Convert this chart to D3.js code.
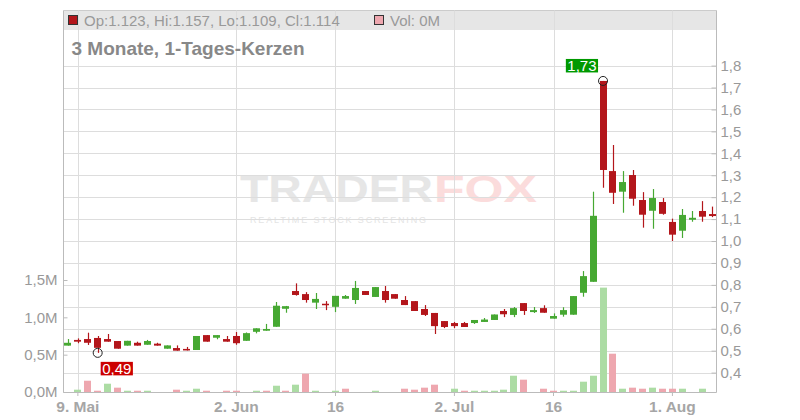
<!DOCTYPE html>
<html><head><meta charset="utf-8">
<script src="https://cdn.jsdelivr.net/npm/d3@7"></script>
<style>body{margin:0;background:#fff}svg{display:block;font-family:"Liberation Sans",Arial,sans-serif}</style>
</head><body><svg id="c" width="800" height="420"></svg>
<script>
// ---- data ----
const dates = [
"2025-05-08","2025-05-09","2025-05-12","2025-05-13","2025-05-14","2025-05-15","2025-05-16","2025-05-19","2025-05-20","2025-05-21","2025-05-22","2025-05-23","2025-05-26","2025-05-27","2025-05-28","2025-05-29","2025-05-30",
"2025-06-02","2025-06-03","2025-06-04","2025-06-05","2025-06-06","2025-06-09","2025-06-10","2025-06-11","2025-06-12","2025-06-13","2025-06-16","2025-06-17","2025-06-18","2025-06-19","2025-06-20","2025-06-23","2025-06-24","2025-06-25","2025-06-26","2025-06-27","2025-06-30",
"2025-07-01","2025-07-02","2025-07-03","2025-07-04","2025-07-07","2025-07-08","2025-07-09","2025-07-10","2025-07-11","2025-07-14","2025-07-15","2025-07-16","2025-07-17","2025-07-18","2025-07-21","2025-07-22","2025-07-23","2025-07-24","2025-07-25","2025-07-28","2025-07-29","2025-07-30","2025-07-31",
"2025-08-01","2025-08-04","2025-08-05","2025-08-06","2025-08-07"];
const open  = [0.523,0.549,0.553,0.558,0.553,0.544,0.523,0.536,0.527,0.532,0.509,0.512,0.508,0.503,0.571,0.559,0.553,0.567,0.545,0.586,0.591,0.609,0.691,0.772,0.758,0.719,0.714,0.700,0.737,0.731,0.772,0.745,0.772,0.758,0.731,0.726,0.690,0.672,0.635,0.626,0.626,0.626,0.631,0.640,0.681,0.663,0.717,0.676,0.694,0.646,0.664,0.664,0.764,0.814,1.730,1.319,1.225,1.301,1.187,1.138,1.178,1.087,1.047,1.097,1.137,1.123];
const high  = [0.553,0.556,0.582,0.567,0.576,0.544,0.545,0.541,0.549,0.536,0.524,0.524,0.517,0.567,0.571,0.571,0.567,0.585,0.583,0.602,0.622,0.722,0.704,0.807,0.767,0.763,0.726,0.750,0.754,0.818,0.772,0.790,0.795,0.758,0.749,0.726,0.708,0.672,0.635,0.631,0.631,0.640,0.649,0.665,0.690,0.699,0.717,0.699,0.707,0.670,0.698,0.749,0.863,1.225,1.730,1.438,1.319,1.324,1.223,1.237,1.196,1.102,1.146,1.137,1.182,1.157];
const low   = [0.523,0.534,0.526,0.490,0.541,0.509,0.523,0.523,0.527,0.523,0.509,0.500,0.501,0.503,0.541,0.552,0.541,0.527,0.545,0.579,0.591,0.609,0.673,0.751,0.719,0.690,0.685,0.676,0.737,0.713,0.754,0.745,0.719,0.737,0.708,0.681,0.658,0.576,0.603,0.603,0.608,0.622,0.631,0.640,0.653,0.653,0.663,0.672,0.673,0.646,0.655,0.664,0.746,0.814,1.243,1.169,1.129,1.161,1.061,1.056,1.120,1.000,1.014,1.088,1.088,1.109];
const close = [0.536,0.541,0.536,0.513,0.541,0.509,0.545,0.523,0.544,0.523,0.524,0.500,0.501,0.567,0.541,0.571,0.541,0.534,0.580,0.602,0.599,0.705,0.703,0.754,0.731,0.736,0.710,0.750,0.749,0.786,0.754,0.790,0.731,0.737,0.708,0.681,0.663,0.612,0.608,0.612,0.608,0.640,0.642,0.665,0.666,0.694,0.681,0.685,0.673,0.658,0.685,0.749,0.840,1.115,1.324,1.220,1.269,1.193,1.120,1.196,1.124,1.029,1.119,1.106,1.111,1.114];
const volume = [0,0.031,0.151,0.017,0.111,0.058,0.017,0.017,0.017,0,0,0.031,0.017,0.044,0.017,0,0.017,0.017,0,0.017,0.017,0.084,0.017,0.098,0.245,0.017,0,0.017,0.044,0,0,0.017,0,0,0.044,0.031,0.058,0.098,0,0.044,0.017,0.017,0.017,0.017,0.031,0.218,0.165,0,0.044,0.017,0.017,0.017,0.138,0.218,1.398,0.513,0.044,0.058,0.044,0.058,0.044,0.044,0.044,0,0.044,0]; // in millions
const priceTicks = [0.4,0.5,0.6,0.7,0.8,0.9,1.0,1.1,1.2,1.3,1.4,1.5,1.6,1.7,1.8];
const volTicks = [0,0.5,1.0,1.5];
const xTickDates = ["2025-05-09","2025-06-02","2025-06-16","2025-07-02","2025-07-16","2025-08-01"];
const xTickLabels = ["9. Mai","2. Jun","16","2. Jul","16","1. Aug"];
const titleText = "3 Monate, 1-Tages-Kerzen";

// ---- styles ----
const RED = "#b3161b", GREEN = "#46a832", VGREEN = "#acdca4", VRED = "#eea7af";
const GRID = "#dddddd", AXIS = "#bbbbbb", TXT = "#999999";

const svg = d3.select("#c");
const L = 63.5, R = 716.5, T = 10.5, B = 392;

const x = d3.scaleBand().domain(dates).range([63, 717]).paddingInner(0.3).paddingOuter(0.15);
const y = d3.scaleLinear().domain([0.4, 1.8]).range([372.6, 65.6]);
const yv = d3.scaleLinear().domain([0, 1.5]).range([B, 280]);
const cx = i => x(dates[i]) + x.bandwidth() / 2;
const bw = 7;
const comma = s => s.replace(".", ",");

// watermark
const wm = svg.append("g").attr("class", "watermark");
wm.append("text").attr("x", 240).attr("y", 202).attr("font-size", 36).attr("font-weight", "bold")
  .attr("textLength", 193).attr("lengthAdjust", "spacingAndGlyphs").attr("fill", "#e6e6e6").text("TRADER");
wm.append("text").attr("x", 434).attr("y", 202).attr("font-size", 36).attr("font-weight", "bold")
  .attr("textLength", 103).attr("lengthAdjust", "spacingAndGlyphs").attr("fill", "#fbdcdc").text("FOX");
wm.append("text").attr("x", 250).attr("y", 223).attr("font-size", 9)
  .attr("textLength", 176).attr("lengthAdjust", "spacing").attr("fill", "#e4e4e4").text("REALTIME STOCK SCREENING");

// header band
svg.append("rect").attr("x", L).attr("y", T).attr("width", R - L).attr("height", 19.5).attr("fill", "#e6e6e6");
svg.append("line").attr("x1", L).attr("x2", R).attr("y1", T).attr("y2", T).attr("stroke", "#cccccc");

// grid
svg.append("g").selectAll("line").data(priceTicks).join("line")
  .attr("x1", L).attr("x2", R).attr("y1", d => Math.round(y(d)) + 0.5).attr("y2", d => Math.round(y(d)) + 0.5)
  .attr("stroke", GRID);
svg.append("g").selectAll("line").data(xTickDates).join("line")
  .attr("x1", d => Math.round(x(d) + x.bandwidth() / 2) + 0.5).attr("x2", d => Math.round(x(d) + x.bandwidth() / 2) + 0.5)
  .attr("y1", T).attr("y2", B).attr("stroke", GRID);

// volume bars
const idx = d3.range(dates.length);
const up = i => i > 0 && close[i] > close[i - 1];
svg.append("g").selectAll("rect").data(idx.filter(i => volume[i] > 0)).join("rect")
  .attr("x", i => Math.round(cx(i) - bw / 2)).attr("width", bw)
  .attr("y", i => yv(volume[i])).attr("height", i => B - yv(volume[i]))
  .attr("fill", i => up(i) ? VGREEN : VRED);

// candles
const cg = svg.append("g").selectAll("g").data(idx).join("g");
cg.append("line")
  .attr("x1", i => Math.round(cx(i)) + 0.5).attr("x2", i => Math.round(cx(i)) + 0.5)
  .attr("y1", i => y(high[i])).attr("y2", i => y(low[i]))
  .attr("stroke", i => close[i] >= open[i] ? GREEN : RED).attr("stroke-width", 1.2);
cg.append("rect")
  .attr("x", i => Math.round(cx(i) - bw / 2)).attr("width", bw)
  .attr("y", i => y(Math.max(open[i], close[i])))
  .attr("height", i => Math.max(1.5, Math.abs(y(open[i]) - y(close[i]))))
  .attr("fill", i => close[i] >= open[i] ? GREEN : RED);

// axes
const fmtP = d => comma(d3.format(".1f")(d));
const ra = svg.append("g").attr("transform", `translate(${R},0)`)
  .call(d3.axisRight(y).tickValues(priceTicks).tickSize(-5).tickPadding(4).tickSizeOuter(0).tickFormat(fmtP));
const la = svg.append("g").attr("transform", `translate(${L},0)`)
  .call(d3.axisLeft(yv).tickValues(volTicks).tickSize(-4).tickPadding(6).tickSizeOuter(0).tickFormat(d => comma(d3.format(".1f")(d)) + "M"));
const ba = svg.append("g").attr("transform", `translate(0,${B})`)
  .call(d3.axisBottom(x).tickValues(xTickDates).tickSize(4).tickPadding(5).tickSizeOuter(0)
    .tickFormat(d => xTickLabels[xTickDates.indexOf(d)]));
[ra, la, ba].forEach(a => {
  a.select(".domain").remove();
  a.selectAll(".tick line").attr("stroke", AXIS);
  a.selectAll("text").attr("fill", TXT).attr("font-size", 15).attr("font-family", '"Liberation Sans",Arial,sans-serif');
});
ba.selectAll("text").attr("font-weight", "bold").attr("font-size", 15.5).attr("fill", "#a6a6a6");
// axis lines
svg.append("line").attr("x1", R).attr("x2", R).attr("y1", T).attr("y2", B + 0.5).attr("stroke", AXIS);
svg.append("line").attr("x1", L).attr("x2", L).attr("y1", T).attr("y2", B + 0.5).attr("stroke", AXIS);
svg.append("line").attr("x1", L).attr("x2", R).attr("y1", B + 0.5).attr("y2", B + 0.5).attr("stroke", AXIS);

// header legend
const n = dates.length - 1;
const f3 = d3.format(".3f");
svg.append("rect").attr("x", 68.5).attr("y", 15.5).attr("width", 9).attr("height", 9).attr("fill", RED).attr("stroke", "#333");
svg.append("text").attr("x", 84).attr("y", 25.5).attr("font-size", 15).attr("fill", TXT)
  .text(`Op:${f3(open[n])}, Hi:${f3(high[n])}, Lo:${f3(low[n])}, Cl:${f3(close[n])}`);
svg.append("rect").attr("x", 374.5).attr("y", 15.5).attr("width", 9).attr("height", 9).attr("fill", VRED).attr("stroke", "#333");
svg.append("text").attr("x", 390).attr("y", 25.5).attr("font-size", 15).attr("fill", TXT)
  .text(`Vol: ${d3.format(".0f")(volume[n])}M`);

// title
svg.append("text").attr("x", 71.5).attr("y", 55).attr("font-size", 19).attr("font-weight", "bold").attr("fill", "#888")
  .text(titleText);

// min / max markers
const iMin = d3.minIndex(low), iMax = d3.maxIndex(high);
function marker(i, v, color, below) {
  const px = cx(i), py = y(v);
  svg.append("circle").attr("cx", px).attr("cy", py).attr("r", 4.5).attr("fill", "none").attr("stroke", "#222");
  const g = svg.append("g");
  const t = g.append("text").attr("font-size", 15).attr("fill", "#fff").text(comma(d3.format(".2f")(v)));
  const w = t.node().getComputedTextLength() + 3, h = 13.5;
  const bx = below ? px + 3 : px - 5 - w;
  const by = below ? py + 9 : py - 8.5 - h;
  g.insert("rect", "text").attr("x", bx).attr("y", by).attr("width", w).attr("height", h).attr("fill", color);
  t.attr("x", bx + 1.5).attr("y", by + 12);
}
marker(iMin, low[iMin], "#cc0000", true);
marker(iMax, high[iMax], "#009900", false);
</script></body></html>
